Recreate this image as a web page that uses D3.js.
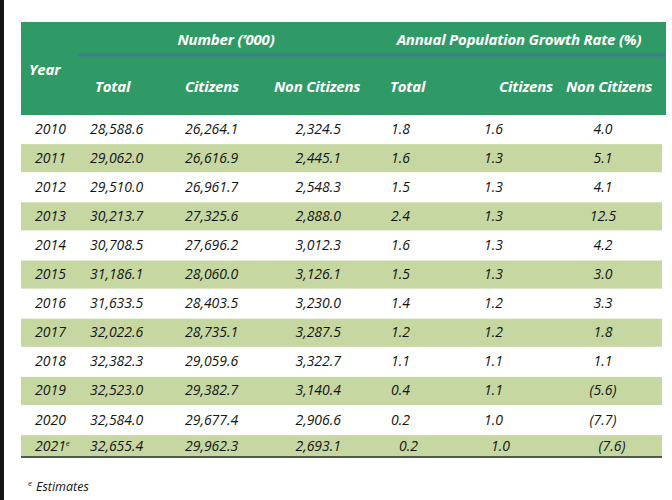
<!DOCTYPE html>
<html>
<head>
<meta charset="utf-8">
<script src="https://cdn.jsdelivr.net/npm/d3@7"></script>
<style>
  body { margin: 0; background: #fff; }
  text { font-family: 'Open Sans', 'Noto Sans', sans-serif; }
</style>
</head>
<body>
<svg width="672" height="500"></svg>
<script>
// Table values
const years = ['2010', '2011', '2012', '2013', '2014', '2015', '2016', '2017', '2018', '2019', '2020', '2021']
const totalNum = [28588.6, 29062.0, 29510.0, 30213.7, 30708.5, 31186.1, 31633.5, 32022.6, 32382.3, 32523.0, 32584.0, 32655.4]
const citizensNum = [26264.1, 26616.9, 26961.7, 27325.6, 27696.2, 28060.0, 28403.5, 28735.1, 29059.6, 29382.7, 29677.4, 29962.3]
const nonCitizensNum = [2324.5, 2445.1, 2548.3, 2888.0, 3012.3, 3126.1, 3230.0, 3287.5, 3322.7, 3140.4, 2906.6, 2693.1]
const growthTotal = [1.8, 1.6, 1.5, 2.4, 1.6, 1.5, 1.4, 1.2, 1.1, 0.4, 0.2, 0.2]
const growthCitizens = [1.6, 1.3, 1.3, 1.3, 1.3, 1.3, 1.2, 1.2, 1.1, 1.1, 1.0, 1.0]
const growthNonCitizens = [4.0, 5.1, 4.1, 12.5, 4.2, 3.0, 3.3, 1.8, 1.1, -5.6, -7.7, -7.6]
const estimateYears = ['2021']

const groupHeaders = ['Number (\u2019000)', 'Annual Population Growth Rate (%)']
const subHeaders = ['Total', 'Citizens', 'Non Citizens', 'Total', 'Citizens', 'Non Citizens']
const footnote = 'Estimates'

const svg = d3.select('svg')
const left = 21
const right = 666
const bandRight = 662
const headerTop = 22
const headerBottom = 115
const tableBottom = 457

const green = '#2f9a66'
const band = '#c6d7a2'
const ink = '#141414'

const fmtNum = d3.format(',.1f')
const fmtRate = (v) => (v < 0 ? `(${d3.format('.1f')(-v)})` : d3.format('.1f')(v))

// dark strip on the left edge of the capture
svg.append('rect').attr('x', 0).attr('y', 0).attr('width', 4).attr('height', 500).attr('fill', '#151515')

// rows
const y = d3.scaleBand().domain(years).range([114, 114 + 29.1 * years.length])

// columns: data x / anchor, header x / anchor
const cols = [
  { x: 90, a: 'start', hx: 95, ha: 'start', vals: totalNum, f: fmtNum },
  { x: 185, a: 'start', hx: 185, ha: 'start', vals: citizensNum, f: fmtNum },
  { x: 341, a: 'end', hx: 274, ha: 'start', vals: nonCitizensNum, f: fmtNum },
  { x: 391, a: 'start', hx: 390, ha: 'start', vals: growthTotal, f: fmtRate, shift: 8 },
  { x: 484, a: 'start', hx: 553, ha: 'end', vals: growthCitizens, f: fmtRate, shift: 7 },
  { x: 603, a: 'middle', hx: 566, ha: 'start', vals: growthNonCitizens, f: fmtRate, shift: 9 },
]

// header block
svg.append('rect')
  .attr('x', left).attr('y', headerTop)
  .attr('width', right - left).attr('height', headerBottom - headerTop)
  .attr('fill', green)
svg.append('line')
  .attr('x1', 78).attr('x2', right).attr('y1', 55).attr('y2', 55)
  .attr('stroke', '#3e7f8c').attr('stroke-width', 3)

const headText = (sel) => sel
  .attr('fill', '#fff').attr('font-weight', 700).attr('font-style', 'italic')
  .attr('font-size', 15).attr('letter-spacing', -0.2)

svg.selectAll('.group')
  .data(groupHeaders)
  .join('text')
  .attr('class', 'group')
  .attr('x', (d, i) => [226, 519][i])
  .attr('y', 45)
  .attr('text-anchor', 'middle')
  .text((d) => d)
  .call(headText)

svg.append('text').attr('x', 29).attr('y', 75).text('Year').call(headText)

svg.selectAll('.sub')
  .data(subHeaders)
  .join('text')
  .attr('class', 'sub')
  .attr('x', (d, i) => cols[i].hx)
  .attr('y', 92)
  .attr('text-anchor', (d, i) => cols[i].ha)
  .text((d) => d)
  .call(headText)

// alternating bands
const last = years[years.length - 1]
svg.selectAll('.band')
  .data(years.filter((d, i) => i % 2 === 1))
  .join('rect')
  .attr('class', 'band')
  .attr('x', left)
  .attr('width', bandRight - left)
  .attr('y', (d) => y(d) + 1)
  .attr('height', (d) => Math.min(y(d) + y.bandwidth(), tableBottom) - y(d) - 1)
  .attr('fill', band)

const rowMid = (d) => (d === last ? (y(d) + tableBottom) / 2 : y(d) + y.bandwidth() / 2)

const bodyText = (sel) => sel
  .attr('fill', ink).attr('font-style', 'italic').attr('font-size', 14)

// years
const yearText = svg.selectAll('.yr')
  .data(years)
  .join('text')
  .attr('class', 'yr')
  .attr('x', 35)
  .attr('y', (d) => rowMid(d) + 5)
  .call(bodyText)
  .text((d) => d)
yearText.filter((d) => estimateYears.includes(d))
  .append('tspan')
  .attr('dy', -5).attr('font-size', 8)
  .text('e')

// cells
cols.forEach((c, ci) => {
  svg.selectAll(`.c${ci}`)
    .data(years)
    .join('text')
    .attr('class', `c${ci}`)
    .attr('x', (d) => c.x + (d === last && c.shift ? c.shift : 0))
    .attr('y', (d) => rowMid(d) + 5)
    .attr('text-anchor', c.a)
    .call(bodyText)
    .text((d, i) => c.f(c.vals[i]))
})

// bottom rule
svg.append('line')
  .attr('x1', left).attr('x2', bandRight).attr('y1', tableBottom).attr('y2', tableBottom)
  .attr('stroke', '#4d5a48').attr('stroke-width', 2)

// footnote
const fn = svg.append('text')
  .attr('x', 28).attr('y', 491)
  .call(bodyText).attr('font-size', 12.5)
fn.append('tspan').attr('dy', -5).attr('font-size', 8).text('e')
fn.append('tspan').attr('dy', 5).attr('dx', 4).text(footnote)
</script>
</body>
</html>
